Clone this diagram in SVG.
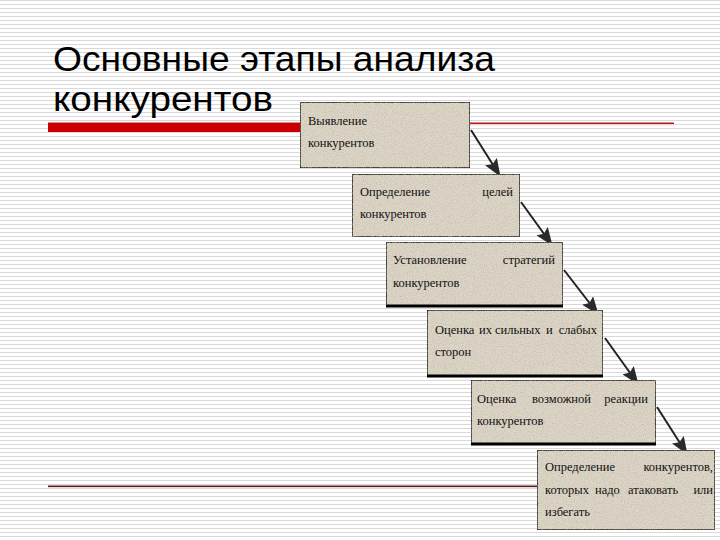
<svg xmlns="http://www.w3.org/2000/svg" width="720" height="540" viewBox="0 0 720 540">
<defs>
<pattern id="stripes" width="720" height="4" patternUnits="userSpaceOnUse">
<rect width="720" height="4" fill="#ffffff"/>
<rect width="720" height="1" fill="#d9d9d9"/>
</pattern>
<filter id="tex" x="0" y="0" width="1" height="1">
<feTurbulence type="fractalNoise" baseFrequency="0.9" numOctaves="2" seed="3" result="n"/>
<feColorMatrix in="n" type="matrix" values="0 0 0 0 0.45  0 0 0 0 0.4  0 0 0 0 0.32  0 0 0 -1.4 0.8" result="s"/>
<feComposite in="s" in2="SourceGraphic" operator="in" result="s2"/>
<feMerge><feMergeNode in="SourceGraphic"/><feMergeNode in="s2"/></feMerge>
</filter>
<marker id="ah" markerWidth="18" markerHeight="14" refX="17" refY="7" orient="auto" markerUnits="userSpaceOnUse">
<path d="M0,0 L18,7 L0,14 L3,7 z" fill="#2a2a2a"/>
</marker>
</defs>
<style>
.box{fill:#ddd6c7;stroke:#111;stroke-width:1.5}
.shadow{stroke:#000;stroke-width:3}
.t{font-family:"Liberation Serif","Times New Roman",serif;font-size:12.5px;fill:#111}
.title{font-family:"Liberation Sans",Arial,sans-serif;font-size:35px;fill:#000}
.conn{stroke:#222;stroke-width:2;fill:none;marker-end:url(#ah)}
</style>
<rect width="720" height="540" fill="url(#stripes)"/>
<g id="title">
<text class="title" x="53" y="70.5" textLength="442" lengthAdjust="spacingAndGlyphs">Основные этапы анализа</text>
<text class="title" x="53" y="110.5" textLength="220" lengthAdjust="spacingAndGlyphs">конкурентов</text>
</g>
<g id="rules">
<rect x="48" y="124" width="626" height="1.5" fill="#f3d2d2"/>
<rect x="48" y="122.5" width="626" height="1.5" fill="#a81c1c"/>
<rect x="48" y="123" width="254" height="9" fill="#cc0000"/>
<rect x="48" y="487" width="492" height="1.5" fill="#f3d2d2"/>
<rect x="48" y="485.5" width="492" height="1.5" fill="#5a1e1e"/>
</g>
<g id="connectors">
<line class="conn" x1="471" y1="130" x2="500" y2="176"/>
<line class="conn" x1="521" y1="202" x2="552" y2="245"/>
<line class="conn" x1="564" y1="270" x2="598" y2="314"/>
<line class="conn" x1="605" y1="338" x2="638" y2="384"/>
<line class="conn" x1="657" y1="407" x2="687" y2="454"/>
</g>
<g id="step1">
<rect class="box" x="300" y="102" width="170" height="66" filter="url(#tex)"/>
<text class="t" x="308" y="125">Выявление</text>
<text class="t" x="308" y="147">конкурентов</text>
</g>
<g id="step2">
<rect class="box" x="352" y="174" width="168" height="63" filter="url(#tex)"/>
<text class="t" x="360" y="196">Определение</text>
<text class="t" x="513" y="196" text-anchor="end">целей</text>
<text class="t" x="360" y="218">конкурентов</text>
</g>
<g id="step3">
<rect class="box" x="386" y="242" width="177" height="65" filter="url(#tex)"/>
<line class="shadow" x1="386" y1="306" x2="563" y2="306"/>
<text class="t" x="393" y="264">Установление</text>
<text class="t" x="555" y="264" text-anchor="end">стратегий</text>
<text class="t" x="393" y="287">конкурентов</text>
</g>
<g id="step4">
<rect class="box" x="427" y="310" width="176" height="66" filter="url(#tex)"/>
<line class="shadow" x1="427" y1="376" x2="603" y2="376"/>
<text class="t" x="435" y="334">Оценка</text>
<text class="t" x="479" y="334">их</text>
<text class="t" x="495" y="334">сильных</text>
<text class="t" x="546" y="334">и</text>
<text class="t" x="597" y="334" text-anchor="end">слабых</text>
<text class="t" x="435" y="356">сторон</text>
</g>
<g id="step5">
<rect class="box" x="471" y="380" width="185" height="65" filter="url(#tex)"/>
<line class="shadow" x1="471" y1="444" x2="656" y2="444"/>
<text class="t" x="477" y="403">Оценка</text>
<text class="t" x="532" y="403">возможной</text>
<text class="t" x="648" y="403" text-anchor="end">реакции</text>
<text class="t" x="477" y="425">конкурентов</text>
</g>
<g id="step6">
<rect class="box" x="537" y="450" width="178" height="80" filter="url(#tex)"/>
<text class="t" x="545" y="471">Определение</text>
<text class="t" x="713" y="471" text-anchor="end">конкурентов,</text>
<text class="t" x="545" y="494">которых</text>
<text class="t" x="595" y="494">надо</text>
<text class="t" x="628" y="494">атаковать</text>
<text class="t" x="713" y="494" text-anchor="end">или</text>
<text class="t" x="545" y="516">избегать</text>
</g>
</svg>
